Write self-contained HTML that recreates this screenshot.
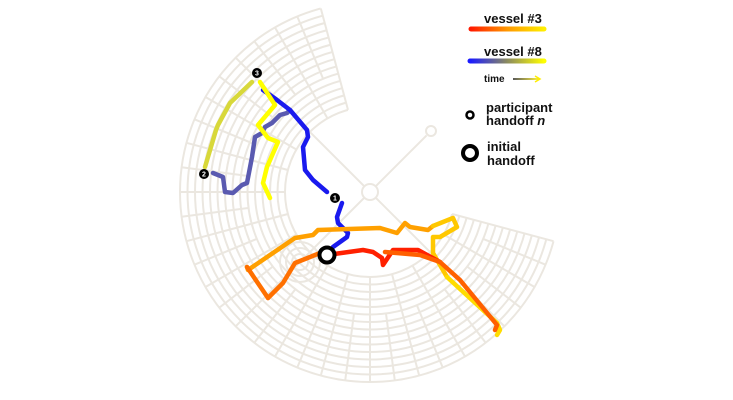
<!DOCTYPE html>
<html><head><meta charset="utf-8"><style>
html,body{margin:0;padding:0;background:#fff;}
svg{display:block;font-family:"Liberation Sans",sans-serif;}
</style></head><body>
<svg width="733" height="400" viewBox="0 0 733 400" xmlns="http://www.w3.org/2000/svg">
<defs>
<linearGradient id="g3" gradientUnits="userSpaceOnUse" x1="471" y1="0" x2="544" y2="0"><stop offset="0" stop-color="#ff1a00"/><stop offset="0.5" stop-color="#ff9900"/><stop offset="1" stop-color="#ffee00"/></linearGradient>
<linearGradient id="g8" gradientUnits="userSpaceOnUse" x1="470" y1="0" x2="544" y2="0"><stop offset="0" stop-color="#1a1aff"/><stop offset="0.5" stop-color="#8a8a60"/><stop offset="1" stop-color="#ffff00"/></linearGradient>
<linearGradient id="gt" gradientUnits="userSpaceOnUse" x1="513" y1="0" x2="539" y2="0"><stop offset="0" stop-color="#222"/><stop offset="1" stop-color="#ffee00"/></linearGradient>
<clipPath id="sec"><polygon points="370,192 660,270 660,600 -100,600 -100,-300 292,-98"/></clipPath>
</defs>
<g fill="none" stroke="#ebe7e0" stroke-width="2">
<g clip-path="url(#sec)">
<circle cx="370" cy="192" r="85"/><circle cx="370" cy="192" r="92.5"/><circle cx="370" cy="192" r="100"/>
<circle cx="370" cy="192" r="107.5"/><circle cx="370" cy="192" r="115"/><circle cx="370" cy="192" r="122.5"/>
<circle cx="370" cy="192" r="130"/><circle cx="370" cy="192" r="137.5"/><circle cx="370" cy="192" r="145"/>
<circle cx="370" cy="192" r="152.5"/><circle cx="370" cy="192" r="160"/><circle cx="370" cy="192" r="167.5"/>
<circle cx="370" cy="192" r="175"/><circle cx="370" cy="192" r="182.5"/><circle cx="370" cy="192" r="190"/>
</g>
<g transform="translate(370,192)">
<line x1="85" y1="0" x2="190" y2="0" transform="rotate(15)"/>
<line x1="85" y1="0" x2="190" y2="0" transform="rotate(30)"/>
<line x1="85" y1="0" x2="190" y2="0" transform="rotate(45)"/>
<line x1="85" y1="0" x2="190" y2="0" transform="rotate(60)"/>
<line x1="85" y1="0" x2="190" y2="0" transform="rotate(75)"/>
<line x1="85" y1="0" x2="190" y2="0" transform="rotate(90)"/>
<line x1="85" y1="0" x2="190" y2="0" transform="rotate(105)"/>
<line x1="85" y1="0" x2="190" y2="0" transform="rotate(120)"/>
<line x1="85" y1="0" x2="190" y2="0" transform="rotate(135)"/>
<line x1="85" y1="0" x2="190" y2="0" transform="rotate(150)"/>
<line x1="85" y1="0" x2="190" y2="0" transform="rotate(165)"/>
<line x1="85" y1="0" x2="190" y2="0" transform="rotate(180)"/>
<line x1="85" y1="0" x2="190" y2="0" transform="rotate(195)"/>
<line x1="85" y1="0" x2="190" y2="0" transform="rotate(210)"/>
<line x1="85" y1="0" x2="190" y2="0" transform="rotate(225)"/>
<line x1="85" y1="0" x2="190" y2="0" transform="rotate(240)"/>
<line x1="85" y1="0" x2="190" y2="0" transform="rotate(255)"/>
<line x1="122" y1="0" x2="190" y2="0" transform="rotate(22.5)"/>
<line x1="122" y1="0" x2="190" y2="0" transform="rotate(37.5)"/>
<line x1="122" y1="0" x2="190" y2="0" transform="rotate(52.5)"/>
<line x1="122" y1="0" x2="190" y2="0" transform="rotate(67.5)"/>
<line x1="122" y1="0" x2="190" y2="0" transform="rotate(82.5)"/>
<line x1="122" y1="0" x2="190" y2="0" transform="rotate(97.5)"/>
<line x1="122" y1="0" x2="190" y2="0" transform="rotate(112.5)"/>
<line x1="122" y1="0" x2="190" y2="0" transform="rotate(127.5)"/>
<line x1="122" y1="0" x2="190" y2="0" transform="rotate(142.5)"/>
<line x1="122" y1="0" x2="190" y2="0" transform="rotate(157.5)"/>
<line x1="122" y1="0" x2="190" y2="0" transform="rotate(172.5)"/>
<line x1="122" y1="0" x2="190" y2="0" transform="rotate(187.5)"/>
<line x1="122" y1="0" x2="190" y2="0" transform="rotate(202.5)"/>
<line x1="122" y1="0" x2="190" y2="0" transform="rotate(217.5)"/>
<line x1="122" y1="0" x2="190" y2="0" transform="rotate(232.5)"/>
<line x1="122" y1="0" x2="190" y2="0" transform="rotate(247.5)"/>
<line x1="8" y1="0" x2="85" y2="0" transform="rotate(45)"/>
<line x1="8" y1="0" x2="85" y2="0" transform="rotate(135)"/>
<line x1="8" y1="0" x2="85" y2="0" transform="rotate(225)"/>
<line x1="8" y1="0" x2="80" y2="0" transform="rotate(315)"/>
</g>
<circle cx="370" cy="192" r="8"/><circle cx="431" cy="131" r="5"/>
<circle cx="300" cy="262" r="8"/><circle cx="300" cy="262" r="14"/><circle cx="300" cy="262" r="20"/>
</g>
<g fill="none" stroke-width="4.5" stroke-linejoin="round" stroke-linecap="round">
<polyline stroke="#d8d83a" points="205,167 216,130 218,125 230,103 252,82"/>
<polyline stroke="#5a5ab0" points="213,173 223,177 225,192 233,193 242,185 247,183 252,157 255,137 262,133 265,127 272,123 280,115 287,113 290,110"/>
<polyline stroke="#1a1aee" points="263,90 277,100 290,110 307,130 308,137 303,147 305,170 313,180 327,192"/>
<polyline stroke="#1a1aee" points="342,203 337,217 338,223 348,233 347,237 333,247"/>
<polyline stroke="#ffff00" points="260,82 275,105 258,125 268,138 278,142 267,167 263,183 270,198"/>
<polyline stroke="#ffa000" points="247,267 248,270 295,238 313,235 318,230 380,228 397,233 405,223 410,227 428,230 433,226"/>
<polyline stroke="#ffc800" points="433,226 453,218 457,227 440,237 433,237 433,253 447,277"/>
<polyline stroke="#ffdc00" points="447,277 497,323 500,330 497,335"/>
<polyline stroke="#ff7000" points="268,298 283,283 295,263 320,253 327,255"/>
<polyline stroke="#ff7000" points="247,267 268,298"/>
<polyline stroke="#ff2000" points="327,255 363,250 373,252 382,258 383,265 393,250 418,250 440,262"/>
<polyline stroke="#ff6000" points="385,252 420,255 440,262 460,280 497,325 495,330"/>
</g>
<circle cx="327" cy="255" r="7.5" fill="#fff" stroke="#000" stroke-width="4"/>
<g font-size="7" font-weight="bold" fill="#fff" text-anchor="middle">
<circle cx="335" cy="198" r="5" fill="#000"/><text x="335" y="200.5">1</text>
<circle cx="204" cy="174" r="5" fill="#000"/><text x="204" y="176.5">2</text>
<circle cx="257" cy="73" r="5" fill="#000"/><text x="257" y="75.5">3</text>
</g>
<g font-weight="bold" fill="#111">
<text x="484" y="23" font-size="13">vessel #3</text>
<line x1="471" y1="29" x2="544" y2="29" stroke="url(#g3)" stroke-width="5" stroke-linecap="round"/>
<text x="484" y="56" font-size="13">vessel #8</text>
<line x1="470" y1="61" x2="544" y2="61" stroke="url(#g8)" stroke-width="5" stroke-linecap="round"/>
<text x="484" y="82" font-size="10">time</text>
<line x1="513" y1="79" x2="539" y2="79" stroke="url(#gt)" stroke-width="1.5"/>
<polyline points="535,76 540,79 535,82" fill="none" stroke="#ffee00" stroke-width="1.5"/>
<circle cx="470" cy="115" r="3.5" fill="#fff" stroke="#000" stroke-width="2.5"/>
<text x="486" y="112" font-size="13">participant</text>
<text x="486" y="125" font-size="13">handoff <tspan font-style="italic">n</tspan></text>
<circle cx="470" cy="153" r="7" fill="#fff" stroke="#000" stroke-width="4"/>
<text x="487" y="151" font-size="13">initial</text>
<text x="487" y="165" font-size="13">handoff</text>
</g>
</svg>
</body></html>
